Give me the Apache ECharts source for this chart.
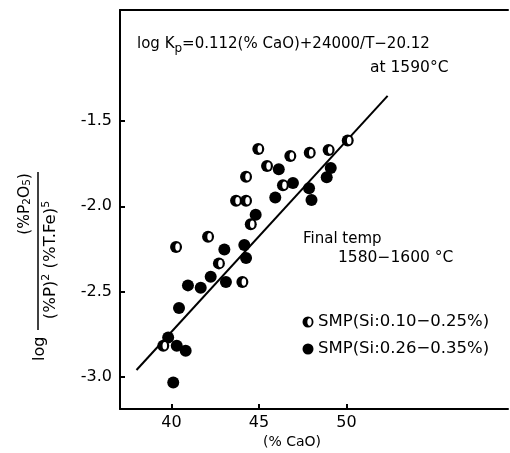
<!DOCTYPE html>
<html><head><meta charset="utf-8">
<script src="https://cdn.jsdelivr.net/npm/echarts@6/dist/echarts.min.js"></script>
<style>html,body{margin:0;padding:0;background:#fff}#c{width:510px;height:453px}</style>
</head><body><div id="c"></div>
<script>
const xTickValues = [40, 45, 50];
const yTickValues = [-1.5, -2.0, -2.5, -3.0];
// SMP (Si:0.10-0.25%) half-filled markers
const halfCaO = [44.96, 45.46, 46.79, 47.90, 48.98, 50.07, 44.26, 43.69, 44.26, 46.37, 44.53, 42.09, 40.26, 42.71, 44.05, 39.53];
const halfLogK = [-1.664, -1.764, -1.705, -1.686, -1.670, -1.615, -1.827, -1.967, -1.967, -1.877, -2.106, -2.179, -2.239, -2.335, -2.444, -2.818];
// SMP (Si:0.26-0.35%) filled markers
const fullCaO = [46.13, 46.94, 45.93, 47.86, 48.00, 49.10, 48.87, 44.81, 44.16, 44.26, 43.02, 42.24, 43.11, 40.94, 41.67, 39.81, 40.30, 40.81, 40.10, 40.43];
const fullLogK = [-1.783, -1.864, -1.948, -1.895, -1.963, -1.776, -1.830, -2.050, -2.227, -2.303, -2.253, -2.413, -2.444, -2.464, -2.478, -2.770, -2.818, -2.847, -3.033, -2.597];
// regression line endpoints
const fitCaO = [38.0, 52.35];
const fitLogK = [-2.960, -1.353];

const zip = (a, b) => a.map((v, i) => [v, b[i]]);
const FONT = 'DejaVu Sans';
const chart = echarts.init(document.getElementById('c'), null, {renderer: 'canvas'});
chart.setOption({
  animation: false,
  backgroundColor: '#fff',
  grid: {left: 120, top: 10, right: 2, bottom: 44},
  xAxis: [{
    type: 'value', min: 37.057, max: 59.23,
    axisLine: {show: true, lineStyle: {color: '#000', width: 2}},
    axisTick: {show: true, inside: true, length: 5, lineStyle: {color: '#000', width: 2}, customValues: xTickValues},
    axisLabel: {color: '#000', fontSize: 16, fontFamily: FONT, margin: 6, customValues: xTickValues},
    splitLine: {show: false}
  }, {
    type: 'value', position: 'top', min: 37.057, max: 59.23,
    axisLine: {show: true, lineStyle: {color: '#000', width: 2}},
    axisTick: {show: false}, axisLabel: {show: false}, splitLine: {show: false}
  }],
  yAxis: {
    type: 'value', min: -3.189, max: -0.849,
    axisLine: {show: true, lineStyle: {color: '#000', width: 2}},
    axisTick: {show: true, inside: true, length: 5, lineStyle: {color: '#000', width: 2}, customValues: yTickValues},
    axisLabel: {color: '#000', fontSize: 16, fontFamily: FONT, margin: 8, customValues: yTickValues,
      formatter: v => (v < 0 ? '-' : '') + Math.abs(v).toFixed(1)},
    splitLine: {show: false}
  },
  series: [
    {type: 'line', data: zip(fitCaO, fitLogK), symbol: 'none', lineStyle: {color: '#000', width: 2}, z: 1},
    {type: 'scatter', data: zip(fullCaO, fullLogK), symbol: 'circle', symbolSize: 12, itemStyle: {color: '#000', opacity: 1}, z: 3},
    {type: 'scatter', data: zip(halfCaO, halfLogK), symbol: 'circle', symbolSize: 12, itemStyle: {color: '#000', opacity: 1}, z: 3},
    {type: 'scatter', data: zip(halfCaO, halfLogK), symbol: 'circle', symbolSize: [4.5, 7.5], symbolOffset: [1.5, 0], itemStyle: {color: '#fff', opacity: 1}, z: 4}
  ],
  graphic: [
    {type: 'text', left: 137, top: 37, style: {text: 'log K{sub|p}=0.112(% CaO)+24000/T−20.12', fontSize: 15, fontFamily: FONT, fill: '#000',
      rich: {sub: {fontSize: 12, fontFamily: FONT, verticalAlign: 'bottom', padding: [8, 0, 0, 0]}}}},
    {type: 'text', left: 370, top: 60, style: {text: 'at 1590°C', fontSize: 15.5, fontFamily: FONT, fill: '#000'}},
    {type: 'text', left: 303, top: 232, style: {text: 'Final temp', fontSize: 15, fontFamily: FONT, fill: '#000'}},
    {type: 'text', left: 338, top: 250, style: {text: '1580−1600 °C', fontSize: 15.5, fontFamily: FONT, fill: '#000'}},
    {type: 'circle', shape: {cx: 308, cy: 322, r: 5.5}, style: {fill: '#000'}},
    {type: 'ellipse', shape: {cx: 309.5, cy: 322, rx: 2.2, ry: 3.7}, style: {fill: '#fff'}},
    {type: 'text', left: 318, top: 313, style: {text: 'SMP(Si:0.10−0.25%)', fontSize: 16.5, fontFamily: FONT, fill: '#000'}},
    {type: 'circle', shape: {cx: 308, cy: 349, r: 5.5}, style: {fill: '#000'}},
    {type: 'text', left: 318, top: 340, style: {text: 'SMP(Si:0.26−0.35%)', fontSize: 16.5, fontFamily: FONT, fill: '#000'}},
    {type: 'text', left: 263, top: 435, style: {text: '(% CaO)', fontSize: 14, fontFamily: FONT, fill: '#000'}},
    {type: 'group', x: 38, y: 250, rotation: Math.PI / 2, children: [
      {type: 'text', x: -111, y: 2, style: {text: 'log', fontSize: 16, fontFamily: FONT, fill: '#000', verticalAlign: 'middle', align: 'left'}},
      {type: 'line', shape: {x1: -80, y1: 0, x2: 78, y2: 0}, style: {stroke: '#000', lineWidth: 1.5}},
      {type: 'text', x: 46, y: -5, style: {text: '(%P{s|2}O{s|5})', fontSize: 15.5, fontFamily: FONT, fill: '#000', align: 'center', verticalAlign: 'bottom',
        rich: {s: {fontSize: 10.5, fontFamily: FONT, padding: [6, 0, 0, 0]}}}},
      {type: 'text', x: -10, y: 3, style: {text: '(%P){u|2} (%T.Fe){u|5}', fontSize: 16.5, fontFamily: FONT, fill: '#000', align: 'center', verticalAlign: 'top',
        rich: {u: {fontSize: 11, fontFamily: FONT, padding: [0, 0, 8, 0]}}}}
    ]}
  ]
});
</script></body></html>
